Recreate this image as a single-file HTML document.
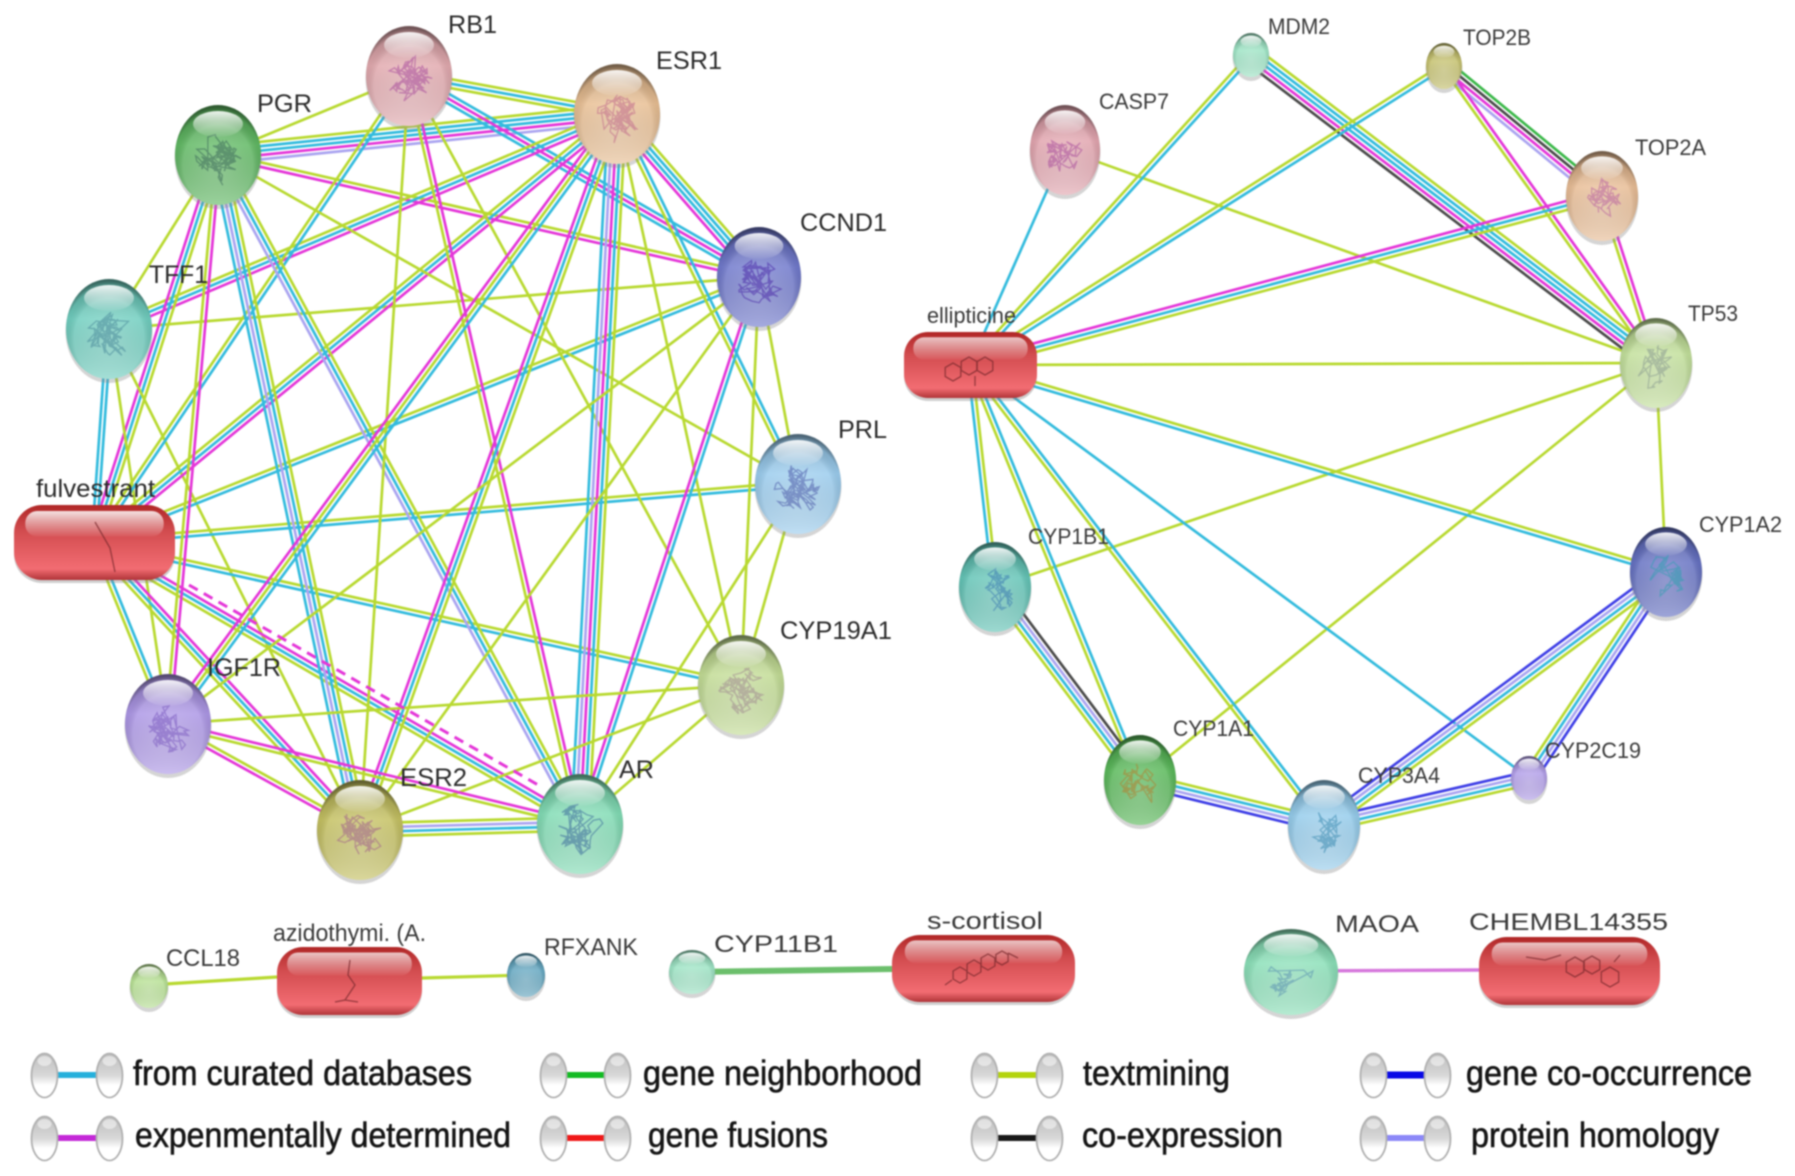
<!DOCTYPE html>
<html><head><meta charset="utf-8"><title>Networks</title>
<style>
html,body{margin:0;padding:0;background:#fff;width:1795px;height:1176px;overflow:hidden}
svg{display:block;filter:blur(.7px)}
text{font-family:"Liberation Sans",sans-serif;fill:#2b2b2b}
.a{font-size:25px}.b{font-size:22px;fill:#3a3a3a}.c{font-size:24px;fill:#3a3a3a}.l{font-size:35px;fill:#151515;stroke:#151515;stroke-width:.6px}
</style></head><body>
<svg xmlns="http://www.w3.org/2000/svg" width="1795" height="1176" viewBox="0 0 1795 1176">
<defs>
<radialGradient id="sh" cx=".5" cy=".6" r=".58">
<stop offset="0" stop-color="#fff" stop-opacity=".3"/><stop offset=".7" stop-color="#fff" stop-opacity=".16"/>
<stop offset=".9" stop-color="#000" stop-opacity=".05"/><stop offset="1" stop-color="#000" stop-opacity=".38"/></radialGradient>
<linearGradient id="dk" x1="0" y1="0" x2="0" y2="1"><stop offset="0" stop-color="#000" stop-opacity=".22"/><stop offset=".4" stop-color="#000" stop-opacity="0"/><stop offset="1" stop-color="#fff" stop-opacity=".25"/></linearGradient>
<linearGradient id="hl" x1="0" y1="0" x2="0" y2="1"><stop offset="0" stop-color="#fff" stop-opacity=".9"/><stop offset="1" stop-color="#fff" stop-opacity=".05"/></linearGradient>
<linearGradient id="pl" x1="0" y1="0" x2="0" y2="1"><stop offset="0" stop-color="#b02626"/><stop offset=".35" stop-color="#d24c4f"/><stop offset=".85" stop-color="#f26c72"/><stop offset="1" stop-color="#b03438"/></linearGradient>
<linearGradient id="ov" x1="0" y1="0" x2="0" y2="1"><stop offset="0" stop-color="#bcbcbc"/><stop offset=".5" stop-color="#d8d8d8"/><stop offset=".72" stop-color="#fff"/><stop offset="1" stop-color="#fff"/></linearGradient>
</defs>
<g id="edges" fill="none"></g>
<g id="nodes"></g>

<text class="a" x="448" y="33" textLength="49" lengthAdjust="spacingAndGlyphs">RB1</text>
<text class="a" x="656" y="69" textLength="66" lengthAdjust="spacingAndGlyphs">ESR1</text>
<text class="a" x="257" y="112" textLength="55" lengthAdjust="spacingAndGlyphs">PGR</text>
<text class="a" x="800" y="231" textLength="87" lengthAdjust="spacingAndGlyphs">CCND1</text>
<text class="a" x="149" y="283" textLength="59" lengthAdjust="spacingAndGlyphs">TFF1</text>
<text class="a" x="838" y="438" textLength="49" lengthAdjust="spacingAndGlyphs">PRL</text>
<text class="a" x="36" y="497" textLength="119" lengthAdjust="spacingAndGlyphs">fulvestrant</text>
<text class="a" x="780" y="639" textLength="112" lengthAdjust="spacingAndGlyphs">CYP19A1</text>
<text class="a" x="207" y="676" textLength="74" lengthAdjust="spacingAndGlyphs">IGF1R</text>
<text class="a" x="400" y="786" textLength="67" lengthAdjust="spacingAndGlyphs">ESR2</text>
<text class="a" x="619" y="778" textLength="35" lengthAdjust="spacingAndGlyphs">AR</text>

<text class="b" x="1268" y="34" textLength="62" lengthAdjust="spacingAndGlyphs">MDM2</text>
<text class="b" x="1463" y="45" textLength="68" lengthAdjust="spacingAndGlyphs">TOP2B</text>
<text class="b" x="1099" y="109" textLength="70" lengthAdjust="spacingAndGlyphs">CASP7</text>
<text class="b" x="1635" y="155" textLength="71" lengthAdjust="spacingAndGlyphs">TOP2A</text>
<text class="b" x="1688" y="321" textLength="50" lengthAdjust="spacingAndGlyphs">TP53</text>
<text class="b" x="927" y="323" textLength="89" lengthAdjust="spacingAndGlyphs">ellipticine</text>
<text class="b" x="1028" y="544" textLength="81" lengthAdjust="spacingAndGlyphs">CYP1B1</text>
<text class="b" x="1699" y="532" textLength="83" lengthAdjust="spacingAndGlyphs">CYP1A2</text>
<text class="b" x="1173" y="736" textLength="81" lengthAdjust="spacingAndGlyphs">CYP1A1</text>
<text class="b" x="1358" y="783" textLength="82" lengthAdjust="spacingAndGlyphs">CYP3A4</text>
<text class="b" x="1545" y="758" textLength="96" lengthAdjust="spacingAndGlyphs">CYP2C19</text>

<text class="c" x="166" y="966" textLength="74" lengthAdjust="spacingAndGlyphs">CCL18</text>
<text class="c" x="273" y="941" textLength="153" lengthAdjust="spacingAndGlyphs">azidothymi. (A.</text>
<text class="c" x="544" y="955" textLength="94" lengthAdjust="spacingAndGlyphs">RFXANK</text>
<text class="c" x="714" y="952" textLength="124" lengthAdjust="spacingAndGlyphs">CYP11B1</text>
<text class="c" x="927" y="929" textLength="116" lengthAdjust="spacingAndGlyphs">s-cortisol</text>
<text class="c" x="1335" y="932" textLength="84" lengthAdjust="spacingAndGlyphs">MAOA</text>
<text class="c" x="1469" y="930" textLength="199" lengthAdjust="spacingAndGlyphs">CHEMBL14355</text>

<text class="l" x="133" y="1085" textLength="339" lengthAdjust="spacingAndGlyphs">from curated databases</text>
<text class="l" x="135" y="1147" textLength="376" lengthAdjust="spacingAndGlyphs">expenmentally determined</text>
<text class="l" x="643" y="1085" textLength="279" lengthAdjust="spacingAndGlyphs">gene neighborhood</text>
<text class="l" x="648" y="1147" textLength="180" lengthAdjust="spacingAndGlyphs">gene fusions</text>
<text class="l" x="1083" y="1085" textLength="147" lengthAdjust="spacingAndGlyphs">textmining</text>
<text class="l" x="1082" y="1147" textLength="201" lengthAdjust="spacingAndGlyphs">co-expression</text>
<text class="l" x="1466" y="1085" textLength="286" lengthAdjust="spacingAndGlyphs">gene co-occurrence</text>
<text class="l" x="1471" y="1147" textLength="248" lengthAdjust="spacingAndGlyphs">protein homology</text>
</svg>
<script>
(function(){
var NS="http://www.w3.org/2000/svg",E=document.getElementById("edges"),N=document.getElementById("nodes");
function el(p,t,a){var e=document.createElementNS(NS,t);for(var k in a)e.setAttribute(k,a[k]);p.appendChild(e);return e}
var C={c:"#33bbdd",m:"#e436d8",t:"#b8d930",p:"#aaa4f0",k:"#4a4a4a",g:"#3cb84a",b:"#3f3fe6"};
var S={
RB1:[409,76,43,50,"#e2a9ae","#a84a9a"],ESR1:[617,114,43,50,"#e8be92","#c06a8a"],PGR:[218,155,43,50,"#5fb862","#3d6a5a"],
CCND1:[759,277,42,50,"#6f78cc","#4a2aa8"],TFF1:[109,329,43,50,"#6fcebf","#4a8a9a"],PRL:[798,484,43,50,"#9accee","#4a5aa8"],
CYP19:[741,685,43,50,"#c2dc94","#a08a90"],IGF1R:[168,724,43,50,"#ac96e6","#7a5ac0"],ESR2:[360,830,43,50,"#c4c060","#a0608a"],AR:[580,824,43,50,"#80dcb4","#3a6a9a"],
FUL:[94,542],
MDM2:[1251,55,18,22,"#9ce4c4"],TOP2B:[1444,66,18,23,"#c4c06c"],CASP7:[1065,150,35,45,"#e2a4ae","#a84a9a"],TOP2A:[1602,196,36,45,"#e8bc94","#b860a0"],
TP53:[1656,363,36,45,"#c2e09a","#8a9a90"],CYP1B1:[995,587,36,45,"#62c4b6","#3a7ab0"],CYP1A2:[1666,572,36,45,"#6470c2","#30a0b0"],
CYP1A1:[1140,780,36,45,"#58b858","#b08030"],CYP3A4:[1324,825,36,45,"#94ccec","#3a8ab0"],CYP2C19:[1529,778,18,22,"#b09ce8"],ELL:[970,365]};
var L=[
["PGR","RB1","t"],["PGR","ESR1","tccmp"],["RB1","ESR1","tct"],["RB1","CCND1","cmc"],["ESR1","CCND1","tccm"],["PGR","CCND1","tm"],
["TFF1","ESR1","tcm"],["TFF1","CCND1","t"],["TFF1","PGR","t"],["PGR","FUL","tcm"],["TFF1","FUL","cc"],["TFF1","IGF1R","t"],["TFF1","ESR2","t"],
["RB1","FUL","ct"],["ESR1","FUL","mct"],["CCND1","FUL","ct"],["PRL","FUL","ct"],["CYP19","FUL","ct"],["AR","FUL","tcm"],["ESR2","FUL","tcm"],["IGF1R","FUL","tc"],
["PGR","IGF1R","mt"],["PGR","ESR2","tcpc"],["PGR","AR","tcp"],["PGR","PRL","t"],["RB1","AR","mt"],["RB1","ESR2","t"],["RB1","CYP19","t"],
["ESR1","AR","tcmpc"],["ESR1","ESR2","tcm"],["ESR1","IGF1R","ctm"],["ESR1","CYP19","t"],["ESR1","PRL","ct"],
["CCND1","AR","cm"],["CCND1","ESR2","t"],["CCND1","PRL","t"],["CCND1","CYP19","t"],["CCND1","IGF1R","t"],
["PRL","AR","t"],["PRL","CYP19","t"],["CYP19","ESR2","t"],["CYP19","IGF1R","t"],["CYP19","AR","t"],
["IGF1R","ESR2","tm"],["IGF1R","AR","mt"],["ESR2","AR","tpct"],
["CASP7","ELL","c"],["CASP7","TP53","t"],["MDM2","ELL","ct"],["MDM2","TP53","tccmk"],["TOP2B","ELL","ct"],["TOP2B","TOP2A","gkmp"],["TOP2B","TP53","mt"],
["TOP2A","ELL","tcm"],["TOP2A","TP53","mt"],["TP53","ELL","t"],["TP53","CYP1B1","t"],["TP53","CYP1A1","t"],["TP53","CYP1A2","t"],
["ELL","CYP1A2","tc"],["ELL","CYP1B1","tc"],["ELL","CYP1A1","ct"],["ELL","CYP3A4","ct"],["ELL","CYP2C19","c"],
["CYP1B1","CYP1A1","kpct"],["CYP1A1","CYP3A4","tcpb"],["CYP3A4","CYP2C19","bpct"],["CYP3A4","CYP1A2","bpct"],["CYP2C19","CYP1A2","tcpb"]];
function line(x1,y1,x2,y2,col,w,extra){var a={x1:x1,y1:y1,x2:x2,y2:y2,stroke:col,"stroke-width":w};if(extra)a["stroke-dasharray"]=extra;el(E,"line",a)}
L.forEach(function(e){var A=S[e[0]],B=S[e[1]],dx=B[0]-A[0],dy=B[1]-A[1],d=Math.hypot(dx,dy),nx=-dy/d,ny=dx/d,n=e[2].length,sp=4.4;
 for(var i=0;i<n;i++){var o=(i-(n-1)/2)*sp;line(A[0]+nx*o,A[1]+ny*o,B[0]+nx*o,B[1]+ny*o,C[e[2][i]],2.7)}});
line(189,585,540,786,C.m,3,"10 7");
line(149,985,277,977,C.t,3.2);line(422,978,526,975,C.t,3.2);
line(692,972,892,969,"#6cbf6c",6);line(1291,971,1479,970,"#d678dc",3.4);

var seed=7;function R(){seed=(seed*16807)%2147483647;return seed/2147483647}
function sphere(x,y,rx,ry,col,sc,dens){
 el(N,"ellipse",{cx:x,cy:y+2.5,rx:rx+.5,ry:ry+1.5,fill:"#888",opacity:.35});
 el(N,"ellipse",{cx:x,cy:y,rx:rx,ry:ry,fill:col});
 el(N,"ellipse",{cx:x,cy:y,rx:rx,ry:ry,fill:"url(#dk)"});
 el(N,"ellipse",{cx:x,cy:y,rx:rx,ry:ry,fill:"url(#sh)"});
 if(sc){var p="",px=x,py=y+ry*.1;for(var i=0;i<dens;i++){
   px+=(R()-.5)*rx*.42;py+=(R()-.5)*ry*.36;
   var qx=(px-x)/(rx*.55),qy=(py-y-ry*.1)/(ry*.52);if(qx*qx+qy*qy>1){px=x+(R()-.5)*rx*.6;py=y+ry*.1+(R()-.5)*ry*.6}
   p+=(i?"L":"M")+px.toFixed(1)+" "+py.toFixed(1)}
  el(N,"path",{d:p,fill:"none",stroke:sc,"stroke-width":1.3,opacity:.55})}
 el(N,"ellipse",{cx:x,cy:y-ry*.62,rx:rx*.58,ry:ry*.26,fill:"url(#hl)"});
}
Object.keys(S).forEach(function(k){var s=S[k];if(s.length>2)sphere(s[0],s[1],s[2],s[3],s[4],s[5],s[2]>40?110:70)});
sphere(149,986,19,22,"#b6e092");sphere(526,975,19,22,"#62a6c0");sphere(692,972,23,22,"#9ce4c4");
sphere(1291,972,47,43,"#8ae0b8","#5a90b0",40);
function pill(x,y,w,h,r,o){
 el(N,"rect",{x:x,y:y+3,width:w,height:h,rx:r,fill:"#888",opacity:.4});
 el(N,"rect",{x:x,y:y,width:w,height:h,rx:r,fill:"url(#pl)"});
 el(N,"rect",{x:x+w*.07,y:y+h*.08,width:w*.86,height:h*.34,rx:h*.16,fill:"url(#hl)",opacity:o||.8});
}
pill(14,505,161,75,28,.95);pill(904,332,133,66,24);pill(277,947,145,68,26);pill(892,935,183,67,28);pill(1479,937,181,68,28);
function mol(d){el(N,"path",{d:d,fill:"none",stroke:"#7a2a2e","stroke-width":1.3,opacity:.75})}
function hex(x,y,r){var p="";for(var i=0;i<6;i++){var a=Math.PI/3*i+Math.PI/6;p+=(i?"L":"M")+(x+r*Math.cos(a)).toFixed(1)+" "+(y+r*Math.sin(a)).toFixed(1)}return p+"Z"}
mol("M95 522L110 548L115 572");
mol(hex(953,372,9)+hex(969,366,9)+hex(985,366,9)+"M975 376V386");
mol("M350 960L348 975L355 985L345 1000L335 1002M345 1000L358 1002");
mol(hex(960,975,8)+hex(974,968,8)+hex(988,962,8)+hex(1002,958,7)+"M1008 953L1018 958M952 980L945 985");
mol(hex(1575,967,10)+hex(1592,965,9)+hex(1610,977,10)+"M1526 957L1545 960L1561 955M1614 962L1620 955");
function leg(x1,x2,y,col,w){
 var xs=[x1+13.5,x2+13.5];
 el(N,"line",{x1:x1+27,y1:y,x2:x2,y2:y,stroke:col,"stroke-width":w||6});
 xs.forEach(function(cx){el(N,"ellipse",{cx:cx,cy:y+.5,rx:13,ry:22,fill:"url(#ov)",stroke:"#b0b0b0","stroke-width":1.8});
  el(N,"ellipse",{cx:cx,cy:y-14,rx:7,ry:5,fill:"#fff",opacity:.5})});
}
leg(31,96,1075,"#25b0dc");leg(31,96,1138,"#c428d8");
leg(540,604,1075,"#12bb22");leg(540,604,1138,"#f01818");
leg(971,1036,1075,"#b4d40c");leg(971,1036,1138,"#181818");
leg(1360,1424,1075,"#0808e6",7);leg(1360,1424,1138,"#8c88f8");
})();
</script>
</body></html>
